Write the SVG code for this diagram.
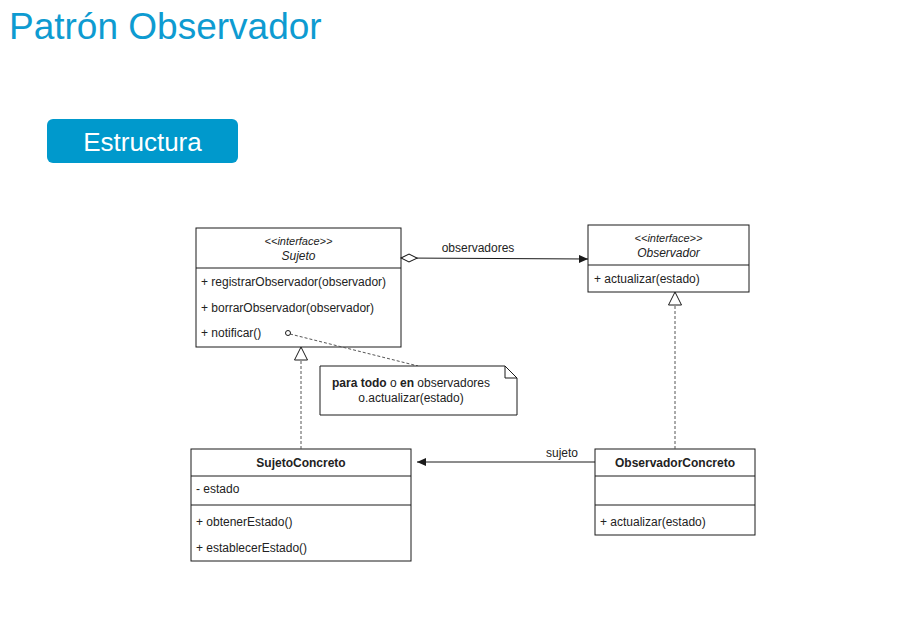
<svg xmlns="http://www.w3.org/2000/svg" width="923" height="639" viewBox="0 0 923 639">
<style>
text{font-family:"Liberation Sans",Arial,sans-serif;fill:#222}
.t{font-size:12px}
.c{text-anchor:middle}
.i{font-style:italic}
.b{font-weight:bold}
.box{fill:#fff;stroke:#1a1a1a;stroke-width:1}
.ln{stroke:#1a1a1a;stroke-width:1;fill:none}
.dash{stroke:#555;stroke-width:1;fill:none;stroke-dasharray:3,2}
</style>
<defs>
<marker id="fa" markerWidth="10" markerHeight="8" refX="9" refY="4" orient="auto" markerUnits="userSpaceOnUse">
<path d="M0,0 L9,4 L0,8 Z" fill="#1a1a1a"/>
</marker>
<marker id="tri" markerWidth="16" markerHeight="16" refX="14" refY="7" orient="auto" markerUnits="userSpaceOnUse">
<path d="M1,0.5 L14,7 L1,13.5 Z" fill="#fff" stroke="#1a1a1a"/>
</marker>
<marker id="dia" markerWidth="18" markerHeight="10" refX="1" refY="5" orient="auto" markerUnits="userSpaceOnUse">
<path d="M1,5 L9,1 L17,5 L9,9 Z" fill="#fff" stroke="#1a1a1a"/>
</marker>
</defs>
<rect width="923" height="639" fill="#fff"/>
<text x="9" y="39" style="font-size:37px;fill:#0e9bd1">Patrón Observador</text>
<g id="btn">
<rect x="47" y="119" width="191" height="44" rx="6" fill="#0099cc"/>
<text x="142.5" y="151" class="c" style="font-size:26px;fill:#fff">Estructura</text>
</g>
<g id="sujeto">
<rect class="box" x="196" y="228" width="205" height="119"/>
<line class="ln" x1="196" y1="268" x2="401" y2="268"/>
<text x="298.5" y="245" class="c i" style="font-size:11px">&lt;&lt;interface&gt;&gt;</text>
<text x="298.5" y="260" class="t c i">Sujeto</text>
<text x="201" y="286" class="t">+ registrarObservador(observador)</text>
<text x="201" y="312" class="t">+ borrarObservador(observador)</text>
<text x="201" y="337" class="t">+ notificar()</text>
</g>
<g id="observador">
<rect class="box" x="588" y="225" width="161" height="67"/>
<line class="ln" x1="588" y1="265" x2="749" y2="265"/>
<text x="668.5" y="242" class="c i" style="font-size:11px">&lt;&lt;interface&gt;&gt;</text>
<text x="668.5" y="257" class="t c i">Observador</text>
<text x="594" y="283" class="t">+ actualizar(estado)</text>
</g>
<g id="sujetoConcreto">
<rect class="box" x="191" y="449" width="220" height="112"/>
<line class="ln" x1="191" y1="476" x2="411" y2="476"/>
<line class="ln" x1="191" y1="505" x2="411" y2="505"/>
<text x="301" y="467" class="t c b">SujetoConcreto</text>
<text x="196" y="493" class="t">- estado</text>
<text x="196" y="526" class="t">+ obtenerEstado()</text>
<text x="196" y="552" class="t">+ establecerEstado()</text>
</g>
<g id="observadorConcreto">
<rect class="box" x="595" y="449" width="160" height="86"/>
<line class="ln" x1="595" y1="476" x2="755" y2="476"/>
<line class="ln" x1="595" y1="505" x2="755" y2="505"/>
<text x="675" y="467" class="t c b">ObservadorConcreto</text>
<text x="600" y="526" class="t">+ actualizar(estado)</text>
</g>
<g id="connectors">
<path class="ln" d="M401,258 L588,259" marker-start="url(#dia)" marker-end="url(#fa)"/>
<text x="478" y="252" class="t c">observadores</text>
<path class="dash" d="M301,449 L301,347" marker-end="url(#tri)"/>
<path class="dash" d="M675,449 L675,292" marker-end="url(#tri)"/>
<path class="ln" d="M595,462 L417,462" marker-end="url(#fa)"/>
<text x="562" y="457" class="t c">sujeto</text>
<path class="dash" d="M290,334 L418,366"/>
<circle cx="288" cy="333" r="2.5" fill="#fff" stroke="#1a1a1a"/>
</g>
<g id="nota">
<path class="box" d="M320,366 L505,366 L517,378 L517,415 L320,415 Z"/>
<path class="ln" d="M505,366 L505,378 L517,378"/>
<text x="411" y="387" class="t c"><tspan class="b">para todo</tspan> o <tspan class="b">en</tspan> observadores</text>
<text x="411" y="402" class="t c">o.actualizar(estado)</text>
</g>
</svg>
